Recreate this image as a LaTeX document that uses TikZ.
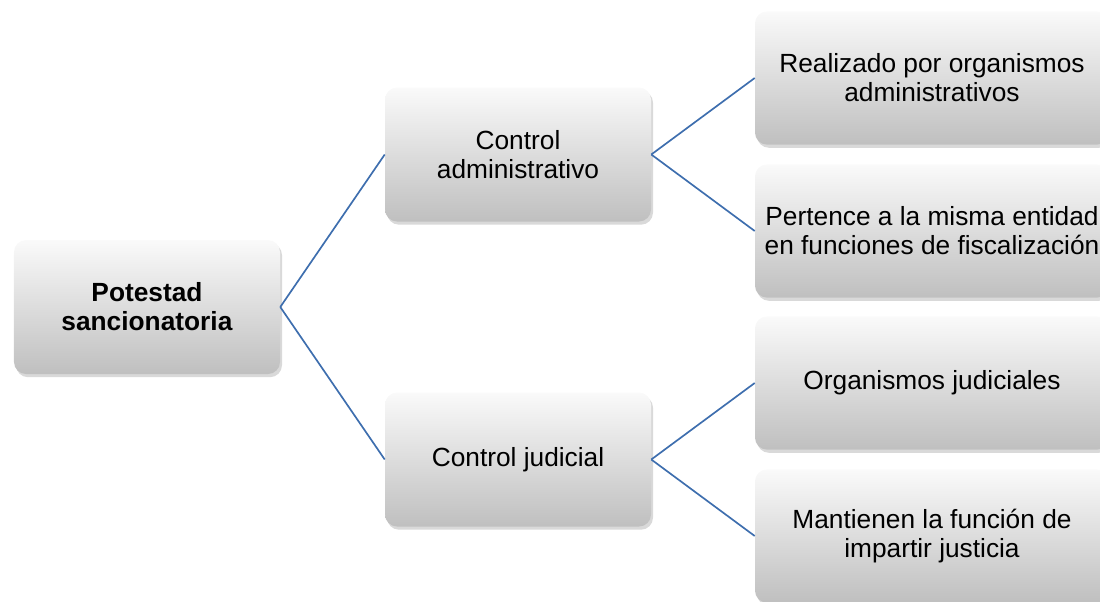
\documentclass[tikz,border=0pt]{standalone}
\usepackage{fontspec}
\setmainfont{Liberation Sans}
\usetikzlibrary{shadows}
\definecolor{linkblue}{RGB}{62,110,174}

\begin{document}
\begin{tikzpicture}
        [grow'=right,
        every node/.style={rounded corners=3mm,top color=gray!4,bottom color=gray!50,
          drop shadow={shadow xshift=0.5mm,shadow yshift=-0.8mm,opacity=0.3},
          minimum width=66.5mm,minimum height=33.5mm,align=center,
          font=\fontsize{18.7}{20.6}\selectfont},
        edge from parent/.style={draw=linkblue,line width=1.2pt},
        edge from parent path={(\tikzparentnode.east) -- (\tikzchildnode.west)},
        level 1/.style={level distance=92.75mm,sibling distance=76.25mm},
        level 2/.style={level distance=103.5mm,sibling distance=38.25mm,
          nodes={minimum width=88.5mm,minimum height=33.3mm}}]
        \useasboundingbox (-3.675,7.675) rectangle (23.825,-7.35);
        \node (pot) {\textbf{Potestad}\\\textbf{sancionatoria}}
          child {node (cadm) {Control\\administrativo}
            child {node (real) {Realizado por organismos\\administrativos}}
            child {node (pert) {Pertence a la misma entidad\\en funciones de fiscalización}}
          }
          child {node (cjud) {Control judicial}
            child {node (orgj) {Organismos judiciales}}
            child {node (mant) {Mantienen la función de\\impartir justicia}}
          };
        \end{tikzpicture}
\end{document}
